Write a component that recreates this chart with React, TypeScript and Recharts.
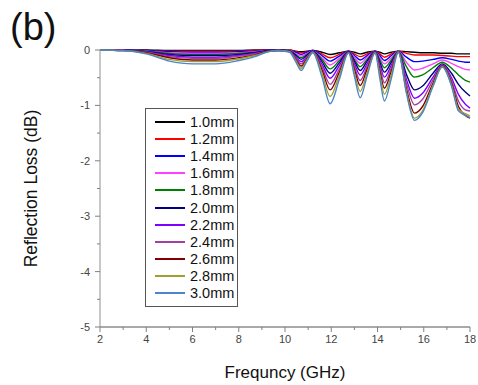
import { LineChart, Line, XAxis, YAxis, Legend, Label } from "recharts";

const FONT = "'Liberation Sans', Arial, sans-serif";

// frequency points (GHz)
const FREQ = [
  2, 3, 4, 5, 6, 7, 8, 8.7, 9.3, 9.7,
  10.2, 10.45, 10.7, 10.95, 11.2,
  11.6, 11.95, 12.35, 12.75,
  13.0, 13.25, 13.55, 13.9,
  14.1, 14.3, 14.6, 14.9,
  15.25, 15.6, 15.95, 16.4, 16.8,
  17.2, 17.5, 17.8, 18,
];

// reflection loss (dB) per thickness
const RL_10 = [
  0, 0, 0, -0.01, -0.01, -0.01, -0.01, 0, 0, 0,
  0, -0.02, -0.03, -0.02, -0.01,
  -0.04, -0.08, -0.05, -0.02,
  -0.04, -0.07, -0.04, -0.02,
  -0.04, -0.07, -0.04, -0.02,
  -0.03, -0.04, -0.05, -0.05, -0.06,
  -0.06, -0.07, -0.07, -0.07,
];
const RL_12 = [
  0, 0, -0.01, -0.02, -0.02, -0.02, -0.02, -0.01, 0, 0,
  0, -0.03, -0.05, -0.03, -0.01,
  -0.07, -0.14, -0.08, -0.02,
  -0.07, -0.12, -0.07, -0.02,
  -0.07, -0.13, -0.07, -0.02,
  -0.06, -0.09, -0.09, -0.09, -0.1,
  -0.11, -0.12, -0.12, -0.12,
];
const RL_14 = [
  0, 0, -0.01, -0.03, -0.04, -0.04, -0.03, -0.02, 0, 0,
  -0.01, -0.04, -0.08, -0.04, -0.01,
  -0.1, -0.2, -0.11, -0.02,
  -0.1, -0.18, -0.1, -0.02,
  -0.1, -0.19, -0.1, -0.02,
  -0.13, -0.21, -0.2, -0.17, -0.14,
  -0.17, -0.2, -0.22, -0.22,
];
const RL_16 = [
  0, 0, -0.02, -0.05, -0.06, -0.06, -0.05, -0.03, -0.01, 0,
  -0.01, -0.06, -0.11, -0.06, -0.02,
  -0.14, -0.27, -0.15, -0.03,
  -0.13, -0.24, -0.13, -0.03,
  -0.14, -0.25, -0.14, -0.02,
  -0.22, -0.36, -0.33, -0.25, -0.18,
  -0.24, -0.3, -0.35, -0.36,
];
const RL_18 = [
  0, 0, -0.02, -0.06, -0.08, -0.08, -0.06, -0.04, -0.01, 0,
  -0.01, -0.08, -0.14, -0.08, -0.02,
  -0.17, -0.34, -0.19, -0.03,
  -0.17, -0.3, -0.17, -0.03,
  -0.18, -0.32, -0.18, -0.02,
  -0.3, -0.49, -0.45, -0.32, -0.22,
  -0.33, -0.45, -0.55, -0.58,
];
const RL_20 = [
  0, 0, -0.03, -0.08, -0.1, -0.1, -0.08, -0.05, -0.01, 0,
  -0.02, -0.09, -0.17, -0.09, -0.02,
  -0.21, -0.42, -0.23, -0.03,
  -0.2, -0.37, -0.2, -0.03,
  -0.22, -0.4, -0.22, -0.03,
  -0.44, -0.72, -0.65, -0.42, -0.25,
  -0.42, -0.62, -0.76, -0.83,
];
const RL_22 = [
  0, 0, -0.04, -0.1, -0.13, -0.13, -0.1, -0.06, -0.02, -0.01,
  -0.02, -0.12, -0.21, -0.12, -0.03,
  -0.26, -0.51, -0.28, -0.04,
  -0.25, -0.45, -0.25, -0.04,
  -0.27, -0.49, -0.27, -0.03,
  -0.53, -0.87, -0.78, -0.49, -0.27,
  -0.5, -0.8, -0.98, -1.05,
];
const RL_24 = [
  0, -0.01, -0.04, -0.12, -0.15, -0.15, -0.11, -0.07, -0.02, -0.01,
  -0.03, -0.14, -0.25, -0.14, -0.03,
  -0.31, -0.62, -0.34, -0.04,
  -0.3, -0.55, -0.3, -0.04,
  -0.32, -0.59, -0.32, -0.03,
  -0.6, -0.99, -0.89, -0.54, -0.28,
  -0.55, -0.92, -1.08, -1.1,
];
const RL_26 = [
  0, -0.01, -0.05, -0.14, -0.18, -0.18, -0.14, -0.09, -0.02, -0.01,
  -0.03, -0.16, -0.29, -0.16, -0.04,
  -0.36, -0.72, -0.4, -0.04,
  -0.35, -0.64, -0.35, -0.04,
  -0.38, -0.69, -0.38, -0.04,
  -0.7, -1.14, -1.02, -0.6, -0.29,
  -0.6, -1.02, -1.18, -1.23,
];
const RL_28 = [
  0, -0.01, -0.06, -0.17, -0.21, -0.21, -0.16, -0.1, -0.03, -0.01,
  -0.03, -0.18, -0.33, -0.18, -0.04,
  -0.42, -0.84, -0.46, -0.05,
  -0.41, -0.75, -0.41, -0.05,
  -0.44, -0.8, -0.44, -0.04,
  -0.75, -1.23, -1.1, -0.64, -0.3,
  -0.63, -1.07, -1.15, -1.19,
];
const RL_30 = [
  0, -0.01, -0.07, -0.2, -0.25, -0.25, -0.19, -0.12, -0.03, -0.01,
  -0.04, -0.2, -0.37, -0.2, -0.05,
  -0.49, -0.97, -0.53, -0.05,
  -0.47, -0.86, -0.47, -0.05,
  -0.51, -0.92, -0.51, -0.04,
  -0.78, -1.27, -1.13, -0.66, -0.31,
  -0.65, -1.1, -1.18, -1.22,
];

const THICKNESS = ["1.0mm", "1.2mm", "1.4mm", "1.6mm", "1.8mm", "2.0mm", "2.2mm", "2.4mm", "2.6mm", "2.8mm", "3.0mm"];
const SERIES = [RL_10, RL_12, RL_14, RL_16, RL_18, RL_20, RL_22, RL_24, RL_26, RL_28, RL_30];
const COLORS = [
  "#000000", "#ff0000", "#0000ff", "#ff40ff", "#008000", "#000080",
  "#8000ff", "#a040a0", "#800000", "#a0a030", "#4a86c8",
];

const X_TICKS = [2, 3, 4, 5, 6, 7, 8, 9, 10, 11, 12, 13, 14, 15, 16, 17, 18];
const Y_TICKS = [0, -0.5, -1, -1.5, -2, -2.5, -3, -3.5, -4, -4.5, -5];

const data = FREQ.map((f, i) => {
  const row: Record<string, number> = { f };
  THICKNESS.forEach((t, k) => {
    row[t] = SERIES[k][i];
  });
  return row;
});

function YTick({ x, y, payload }: any) {
  const v = payload.value;
  const major = Number.isInteger(v);
  const ax = x + 8;
  return (
    <g>
      <line x1={ax - (major ? 5 : 3)} x2={ax} y1={y} y2={y} stroke="#808080" />
      {major && (
        <text x={ax - 10} y={y} dy={4} textAnchor="end" fontSize={11} fill="#444" fontFamily={FONT}>
          {v}
        </text>
      )}
    </g>
  );
}

function XTick({ x, y, payload }: any) {
  const v = payload.value;
  const major = v % 2 === 0;
  const ay = y - 8;
  return (
    <g>
      <line x1={x} x2={x} y1={ay} y2={ay + (major ? 5 : 3)} stroke="#808080" />
      {major && (
        <text x={x} y={ay + 16} textAnchor="middle" fontSize={11} fill="#444" fontFamily={FONT}>
          {v}
        </text>
      )}
    </g>
  );
}

function LegendBox() {
  return (
    <div
      style={{
        border: "1px solid #555",
        background: "#fff",
        padding: "4px 0 4px 9px",
        width: 82,
        fontFamily: FONT,
        fontSize: 14.5,
        color: "#111",
      }}
    >
      {THICKNESS.map((t, i) => (
        <div key={t} style={{ display: "flex", alignItems: "center", height: 17.2 }}>
          <span style={{ width: 30, height: 0, borderTop: `2px solid ${COLORS[i]}`, marginRight: 5 }} />
          <span>{t}</span>
        </div>
      ))}
    </div>
  );
}

export default function App() {
  return (
    <div style={{ position: "absolute", left: 0, top: 0, width: 478, height: 385, background: "#fff" }}>
      <div
        style={{
          position: "absolute",
          left: 10,
          top: 6,
          fontFamily: FONT,
          fontSize: 38,
          color: "#111",
        }}
      >
        (b)
      </div>
      <LineChart width={478} height={385} data={data} margin={{ top: 50, right: 8, left: 0, bottom: 0 }}>
        <XAxis
          dataKey="f"
          type="number"
          domain={[2, 18]}
          ticks={X_TICKS}
          interval={0}
          tickSize={5}
          tickMargin={3}
          tickLine={false}
          tick={<XTick />}
          axisLine={{ stroke: "#555" }}
          height={58}
        >
          <Label
            value="Frequncy (GHz)"
            position="insideBottom"
            offset={7}
            style={{ fontFamily: FONT, fontSize: 17, fill: "#111" }}
          />
        </XAxis>
        <YAxis
          type="number"
          domain={[-5, 0]}
          ticks={Y_TICKS}
          interval={0}
          tickSize={5}
          tickMargin={3}
          tickLine={false}
          tick={<YTick />}
          axisLine={{ stroke: "#909090" }}
          width={100}
        >
          <Label
            value="Reflection Loss (dB)"
            angle={-90}
            position="insideLeft"
            offset={31}
            style={{ textAnchor: "middle", fontFamily: FONT, fontSize: 17.5, fill: "#111" }}
          />
        </YAxis>
        <Legend
          layout="vertical"
          align="center"
          verticalAlign="middle"
          content={<LegendBox />}
          wrapperStyle={{ left: 145, top: 108, width: "auto" }}
        />
        {THICKNESS.map((t, i) => (
          <Line
            key={t}
            dataKey={t}
            type="monotone"
            stroke={COLORS[i]}
            strokeWidth={1.4}
            dot={false}
            isAnimationActive={false}
          />
        ))}
      </LineChart>
    </div>
  );
}
